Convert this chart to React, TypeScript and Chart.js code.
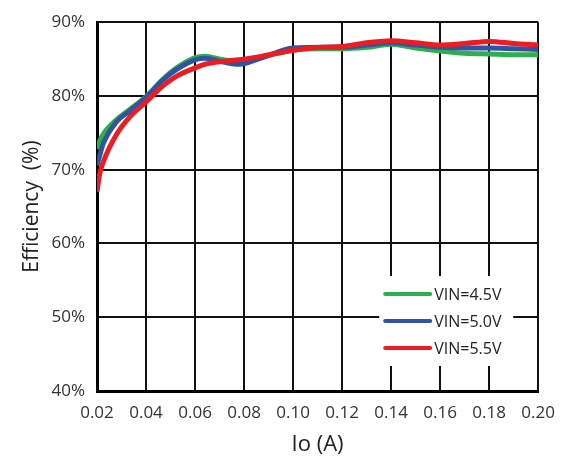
import React, { useEffect, useRef } from "react";
import { Chart, registerables } from "chart.js";

Chart.register(...registerables);

const IO_A = [0.02, 0.021, 0.0225, 0.028, 0.0335, 0.04, 0.047, 0.0525, 0.06, 0.064, 0.0715, 0.078, 0.0875, 0.1, 0.112, 0.12, 0.13, 0.14, 0.15, 0.16, 0.17, 0.18, 0.19, 0.2];
const EFF_45 = [72.8, 73.8, 74.8, 76.8, 78.2, 79.9, 82.3, 83.8, 85.2, 85.4, 84.9, 84.7, 85.3, 86.2, 86.4, 86.4, 86.6, 87.0, 86.5, 86.1, 85.8, 85.7, 85.6, 85.6];
const EFF_50 = [70.6, 71.8, 73.5, 76.5, 78.0, 79.8, 82.2, 83.6, 84.9, 85.1, 84.6, 84.3, 85.2, 86.5, 86.6, 86.6, 86.9, 87.2, 86.9, 86.6, 86.5, 86.5, 86.4, 86.3];
const EFF_55 = [67.0, 69.3, 71.0, 74.8, 77.2, 79.2, 81.4, 82.7, 83.8, 84.3, 84.7, 84.9, 85.4, 86.2, 86.6, 86.7, 87.2, 87.5, 87.2, 86.9, 87.1, 87.4, 87.1, 86.9];
const SERIES_LABELS = ["VIN=4.5V", "VIN=5.0V", "VIN=5.5V"];
const X_TICKS = [0.02, 0.04, 0.06, 0.08, 0.1, 0.12, 0.14, 0.16, 0.18, 0.2];
const Y_TICKS = [40, 50, 60, 70, 80, 90];

const COLORS = ["#2fae4e", "#2e54a3", "#ec1c24"];
const FONT = "'Open Sans', 'Noto Sans', sans-serif";

const legendPlugin = {
  id: "insideLegend",
  afterDatasetsDraw(chart: any) {
    const { ctx, chartArea } = chart;
    const boxL = chartArea.right - 159;
    const boxT = chartArea.bottom - 115;
    ctx.save();
    ctx.fillStyle = "#ffffff";
    ctx.fillRect(boxL, boxT, 134, 90);
    chart.data.datasets.forEach((ds: any, i: number) => {
      const y = boxT + 18 + i * 27;
      ctx.strokeStyle = ds.borderColor;
      ctx.lineWidth = 4;
      ctx.lineCap = "round";
      ctx.beginPath();
      ctx.moveTo(boxL + 6, y);
      ctx.lineTo(boxL + 51, y);
      ctx.stroke();
      ctx.fillStyle = "#222";
      ctx.font = `16px ${FONT}`;
      ctx.textBaseline = "middle";
      ctx.textAlign = "left";
      ctx.fillText(ds.label, boxL + 55, y + 1);
    });
    ctx.restore();
  },
};

export default function App() {
  const ref = useRef<HTMLCanvasElement | null>(null);
  useEffect(() => {
    if (!ref.current) return;
    const series = [EFF_45, EFF_50, EFF_55];
    const chart = new Chart(ref.current, {
      type: "line",
      data: {
        datasets: series.map((s, i) => ({
          label: SERIES_LABELS[i],
          data: s.map((v, j) => ({ x: IO_A[j], y: v })),
          borderColor: COLORS[i],
          backgroundColor: COLORS[i],
          borderWidth: 5,
          pointRadius: 0,
          cubicInterpolationMode: "monotone" as const,
          order: 3 - i,
        })),
      },
      options: {
        animation: false,
        responsive: false,
        layout: { padding: { top: 14, right: 28, left: 0, bottom: 0 } },
        plugins: { legend: { display: false }, tooltip: { enabled: false } },
        scales: {
          x: {
            type: "linear",
            min: 0.02,
            max: 0.2,
            afterBuildTicks: (scale: any) => {
              scale.ticks = X_TICKS.map((v) => ({ value: v }));
            },
            afterFit: (scale: any) => {
              scale.height = 73;
            },
            grid: { color: "#111", lineWidth: 2, drawTicks: false },
            border: { color: "#000", width: 3 },
            ticks: {
              padding: 12,
              color: "#333",
              font: { family: FONT, size: 17 },
              callback: (v: any) => Number(v).toFixed(2),
              maxRotation: 0,
            },
            title: {
              display: true,
              text: "Io (A)",
              color: "#222",
              font: { family: FONT, size: 22 },
              padding: { top: 0, bottom: 6 },
            },
          },
          y: {
            type: "linear",
            min: 40,
            max: 90,
            afterBuildTicks: (scale: any) => {
              scale.ticks = Y_TICKS.map((v) => ({ value: v }));
            },
            afterFit: (scale: any) => {
              scale.width = 97;
            },
            grid: { color: "#111", lineWidth: 2, drawTicks: false },
            border: { color: "#000", width: 3 },
            ticks: {
              padding: 12,
              color: "#333",
              font: { family: FONT, size: 17 },
              callback: (v: any) => `${v}%`,
            },
            title: {
              display: true,
              text: "Efficiency  (%)",
              color: "#222",
              font: { family: FONT, size: 21 },
              padding: { top: 19, bottom: 0 },
            },
          },
        },
      },
      plugins: [legendPlugin],
    });
    return () => chart.destroy();
  }, []);
  return (
    <div style={{ position: "fixed", left: 0, top: 0, width: 567, height: 464, background: "#fff" }}>
      <canvas ref={ref} width={567} height={464} />
    </div>
  );
}
